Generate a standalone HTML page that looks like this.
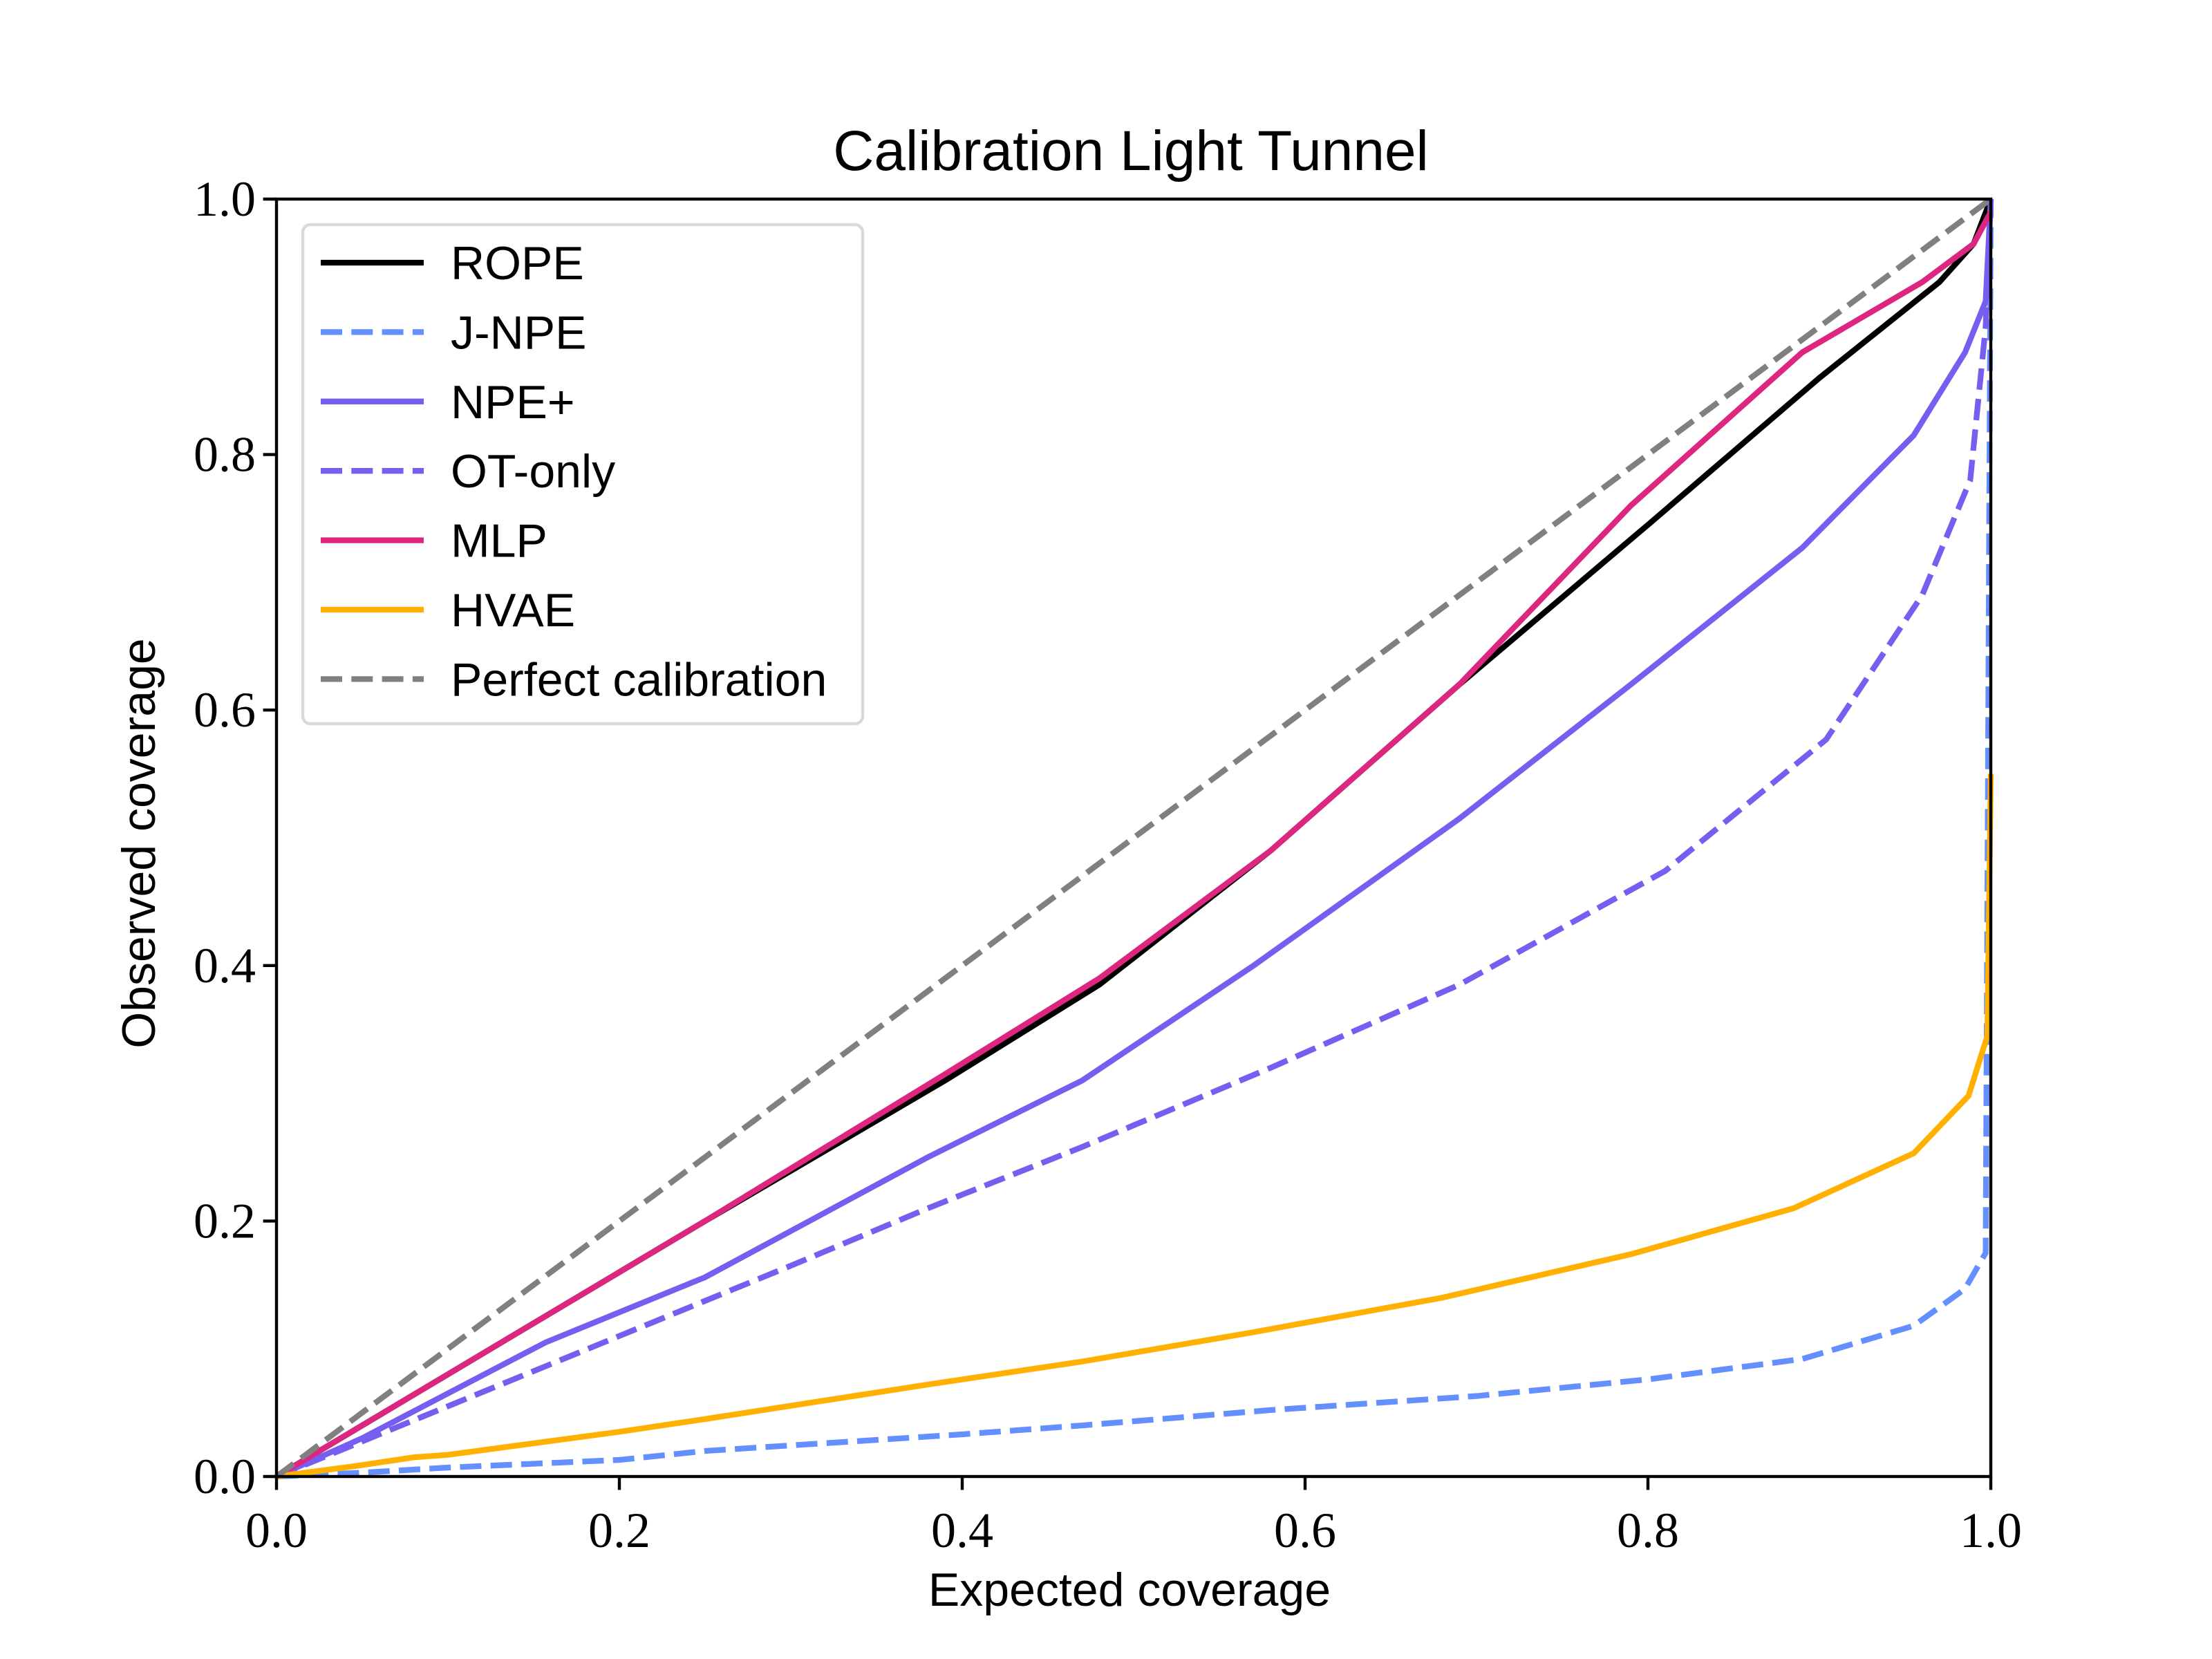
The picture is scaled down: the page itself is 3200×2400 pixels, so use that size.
<!DOCTYPE html>
<html><head><meta charset="utf-8"><style>
html,body{margin:0;padding:0;background:#fff;}
svg{display:block;}
.tick{font-family:"Liberation Serif",serif;font-size:72px;fill:#000;}
.lab{font-family:"Liberation Sans",sans-serif;font-size:68px;fill:#000;}
</style></head><body>
<svg id="chart" width="3200" height="2400" viewBox="0 0 3200 2400" xmlns="http://www.w3.org/2000/svg">
<rect width="3200" height="2400" fill="#fff"/>
<text x="1636" y="246" text-anchor="middle" class="lab" style="font-size:82px">Calibration Light Tunnel</text>
<g id="plot"></g>
<g id="axes"></g>
<text x="1634" y="2323" text-anchor="middle" class="lab">Expected coverage</text>
<text x="224" y="1220" text-anchor="middle" class="lab" transform="rotate(-90 224 1220)">Observed coverage</text>
<g id="legend"></g>
</svg>
<script>
const xTicks = [0, 0.2, 0.4, 0.6, 0.8, 1.0];
const yTicks = [0, 0.2, 0.4, 0.6, 0.8, 1.0];
const tickLabels = ["0.0","0.2","0.4","0.6","0.8","1.0"];
const seriesNames = ["ROPE","J-NPE","NPE+","OT-only","MLP","HVAE","Perfect calibration"];
const perfectX = [0, 1];
const perfectY = [0, 1];
const ropeX = [0,0.1,0.25,0.39,0.48,0.58,0.69,0.8,0.9,0.97,0.99,1.0];
const ropeY = [0,0.08,0.2,0.31,0.385,0.49,0.62,0.745,0.86,0.935,0.965,1.0];
const mlpX = [0,0.05,0.15,0.25,0.39,0.48,0.58,0.69,0.79,0.89,0.96,0.99,1.0];
const mlpY = [0,0.04,0.12,0.2,0.315,0.39,0.49,0.62,0.76,0.88,0.935,0.965,0.99];
const npeX = [0,0.05,0.157,0.25,0.38,0.47,0.57,0.69,0.79,0.89,0.955,0.985,0.997,1.0];
const npeY = [0,0.03,0.105,0.156,0.25,0.31,0.4,0.515,0.62,0.727,0.815,0.88,0.92,1.0];
const otX = [0,0.1,0.2,0.3,0.38,0.47,0.58,0.69,0.81,0.904,0.96,0.988,0.997,1.0];
const otY = [0,0.055,0.11,0.165,0.21,0.258,0.32,0.385,0.474,0.577,0.69,0.78,0.9,1.0];
const hvaeX = [0,0.045,0.08,0.1,0.2,0.25,0.38,0.47,0.57,0.68,0.79,0.885,0.955,0.987,0.998,1.0];
const hvaeY = [0,0.008,0.015,0.017,0.035,0.045,0.072,0.09,0.113,0.14,0.174,0.21,0.253,0.298,0.345,0.55];
const jnpeX = [0,0.05,0.1,0.2,0.25,0.4,0.47,0.58,0.7,0.8,0.89,0.955,0.985,0.997,1.0];
const jnpeY = [0,0.003,0.007,0.013,0.02,0.033,0.04,0.052,0.063,0.076,0.092,0.118,0.147,0.175,1.0];

const NS = "http://www.w3.org/2000/svg";
const L = 400, R = 2880, T = 288, B = 2136;
function sx(v){ return L + v*(R-L); }
function sy(v){ return B - v*(B-T); }
const plot = document.getElementById('plot');
const axes = document.getElementById('axes');
const legend = document.getElementById('legend');
const DASH = "31 13.3";
const styles = [
  {x:ropeX,y:ropeY,c:"#000000",d:null,n:"rope-line"},
  {x:jnpeX,y:jnpeY,c:"#648fff",d:DASH,n:"j-npe-line"},
  {x:npeX,y:npeY,c:"#785ef0",d:null,n:"npe-plus-line"},
  {x:otX,y:otY,c:"#785ef0",d:DASH,n:"ot-only-line"},
  {x:mlpX,y:mlpY,c:"#dc267f",d:null,n:"mlp-line"},
  {x:hvaeX,y:hvaeY,c:"#ffb000",d:null,n:"hvae-line"},
  {x:perfectX,y:perfectY,c:"#808080",d:DASH,n:"perfect-calibration-line"}
];
styles.forEach(s=>{
  const p = document.createElementNS(NS,'polyline');
  p.setAttribute('points', s.x.map((v,i)=>sx(v)+','+sy(s.y[i])).join(' '));
  p.setAttribute('fill','none');
  p.setAttribute('stroke',s.c);
  p.setAttribute('stroke-width','8.3');
  if(s.d) p.setAttribute('stroke-dasharray',s.d);
  
  
  plot.appendChild(p);
});
const frame = document.createElementNS(NS,'rect');
frame.setAttribute('x',L); frame.setAttribute('y',T);
frame.setAttribute('width',R-L); frame.setAttribute('height',B-T);
frame.setAttribute('fill','none'); frame.setAttribute('stroke','#000'); frame.setAttribute('stroke-width','4.4');


axes.appendChild(frame);
xTicks.forEach((v,i)=>{
  const l = document.createElementNS(NS,'line');
  l.setAttribute('x1',sx(v)); l.setAttribute('x2',sx(v));
  l.setAttribute('y1',B); l.setAttribute('y2',B+19.4);
  l.setAttribute('stroke','#000'); l.setAttribute('stroke-width','4.4');
  
  
  axes.appendChild(l);
  const t = document.createElementNS(NS,'text');
  t.setAttribute('x',sx(v)); t.setAttribute('y',B+102);
  t.setAttribute('text-anchor','middle'); t.setAttribute('class','tick');
  t.textContent = tickLabels[i];
  
  
  axes.appendChild(t);
});
yTicks.forEach((v,i)=>{
  const l = document.createElementNS(NS,'line');
  l.setAttribute('x1',L-19.4); l.setAttribute('x2',L);
  l.setAttribute('y1',sy(v)); l.setAttribute('y2',sy(v));
  l.setAttribute('stroke','#000'); l.setAttribute('stroke-width','4.4');
  
  
  axes.appendChild(l);
  const t = document.createElementNS(NS,'text');
  t.setAttribute('x',L-30); t.setAttribute('y',sy(v)+24);
  t.setAttribute('text-anchor','end'); t.setAttribute('class','tick');
  t.textContent = tickLabels[i];
  
  
  axes.appendChild(t);
});
const box = document.createElementNS(NS,'rect');
box.setAttribute('x',438); box.setAttribute('y',325);
box.setAttribute('width',810); box.setAttribute('height',722);
box.setAttribute('rx',11); box.setAttribute('fill','#fff'); box.setAttribute('fill-opacity','0.8');
box.setAttribute('stroke','#d9d9d9'); box.setAttribute('stroke-width','4.4');


legend.appendChild(box);
styles.forEach((s,i)=>{
  const yy = 380 + i*100.4;
  const l = document.createElementNS(NS,'line');
  l.setAttribute('x1',464); l.setAttribute('x2',613);
  l.setAttribute('y1',yy); l.setAttribute('y2',yy);
  l.setAttribute('stroke',s.c); l.setAttribute('stroke-width','8.3');
  if(s.d) l.setAttribute('stroke-dasharray',s.d);
  
  
  legend.appendChild(l);
  const t = document.createElementNS(NS,'text');
  t.setAttribute('x',652); t.setAttribute('y',yy+24);
  t.setAttribute('class','lab');
  t.textContent = seriesNames[i];
  
  
  legend.appendChild(t);
});
</script>
</body></html>
